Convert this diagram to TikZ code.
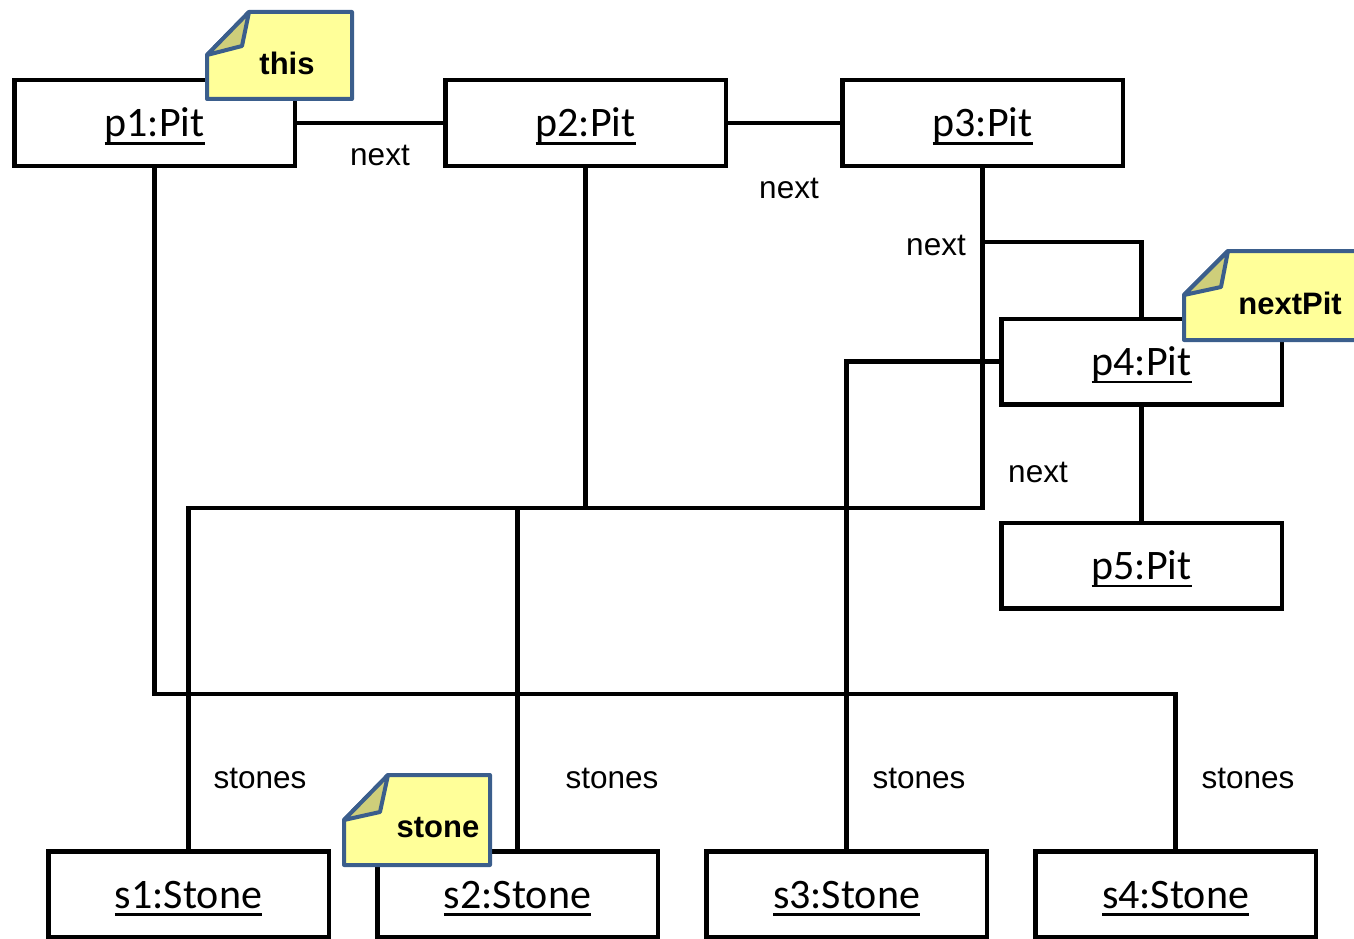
\documentclass[tikz,border=0pt]{standalone}
\usepackage{fontspec}
\usepackage{tikz}
\newfontfamily\calibri{Carlito}
\newfontfamily\arial{Liberation Sans}
\definecolor{notefill}{RGB}{255,255,153}
\definecolor{noteedge}{RGB}{59,94,140}
\definecolor{notefold}{RGB}{206,206,122}
\newcommand{\uname}[1]{\setbox0=\hbox{#1}\rlap{\rule[-7.5pt]{\wd0}{2.5pt}}\box0}
\tikzstyle{obj}=[draw, line width=4.5pt, minimum width=280.5pt, minimum height=85.5pt, inner sep=0pt, text height=34pt, text depth=6pt, font=\calibri\fontsize{42}{50}\selectfont]
\tikzstyle{link}=[line width=4.3pt]
\tikzstyle{role}=[inner sep=0pt, anchor=base, font=\arial\fontsize{31.5}{38}\selectfont]
\tikzstyle{note}=[fill=notefill, draw=noteedge, line width=4pt, line join=round]
\tikzstyle{notecorner}=[note, fill=notefold]
\tikzstyle{notetext}=[inner sep=0pt, font=\arial\bfseries\fontsize{31}{37}\selectfont]

\begin{document}
\begin{tikzpicture}[x=1pt, y=-1pt]
    \useasboundingbox (0,0) rectangle (1354,939);
    % pits
    \node[obj] (p1) at (154.5,123) {\uname{p1:Pit}};
    \node[obj] (p2) at (585.5,123) {\uname{p2:Pit}};
    \node[obj] (p3) at (982.5,123) {\uname{p3:Pit}};
    \node[obj] (p4) at (1141.5,361.5) {\uname{p4:Pit}};
    \node[obj] (p5) at (1141.5,565.5) {\uname{p5:Pit}};
    % stones
    \node[obj] (s1) at (188.5,894) {\uname{s1:Stone}};
    \node[obj] (s2) at (517.5,894) {\uname{s2:Stone}};
    \node[obj] (s3) at (846.5,894) {\uname{s3:Stone}};
    \node[obj] (s4) at (1175.5,894) {\uname{s4:Stone}};
    \coordinate (bus) at (0,508);
    \coordinate (lowbus) at (0,694);
    % links
    \draw[link] (p1.east) -- (p2.west);
    \draw[link] (p2.east) -- (p3.west);
    \draw[link] ([yshift=-74pt]p3.south) -| (p4.north);
    \draw[link] (p4.south) -- (p5.north);
    \draw[link] (p1.south) |- (s4.north |- lowbus) -- (s4.north);
    \draw[link] (p2.south) |- (s2.north |- bus) -- (s2.north);
    \draw[link] (p3.south) |- (s1.north |- bus) -- (s1.north);
    \draw[link] (p4.west) -| (s3.north);
    % role names
    \node[role] (next12) at (380,165) {next};
    \node[role] (next23) at (789,198) {next};
    \node[role] (next34) at (936,255) {next};
    \node[role] (next45) at (1038,482) {next};
    \node[role] (stones1) at (260,788) {stones};
    \node[role] (stones2) at (612,788) {stones};
    \node[role] (stones3) at (919,788) {stones};
    \node[role] (stones4) at (1248,788) {stones};
    % notes
    \draw[note] (207,55) -- (249,12) -- (352,12) -- (352,99) -- (207,99) -- cycle;
    \draw[notecorner] (207,55) -- (249,12) -- (242,46) -- cycle;
    \node[notetext] (thisnote) at (287,63) {this};
    \draw[note] (1184,295) -- (1228,251) -- (1364,251) -- (1364,340) -- (1184,340) -- cycle;
    \draw[notecorner] (1184,295) -- (1228,251) -- (1221,287) -- cycle;
    \node[notetext] (nextpitnote) at (1290,303) {nextPit};
    \draw[note] (344,820) -- (388,775) -- (490,775) -- (490,865) -- (344,865) -- cycle;
    \draw[notecorner] (344,820) -- (388,775) -- (380,812) -- cycle;
    \node[notetext] (stonenote) at (438,828) {stone};
\end{tikzpicture}
\end{document}
